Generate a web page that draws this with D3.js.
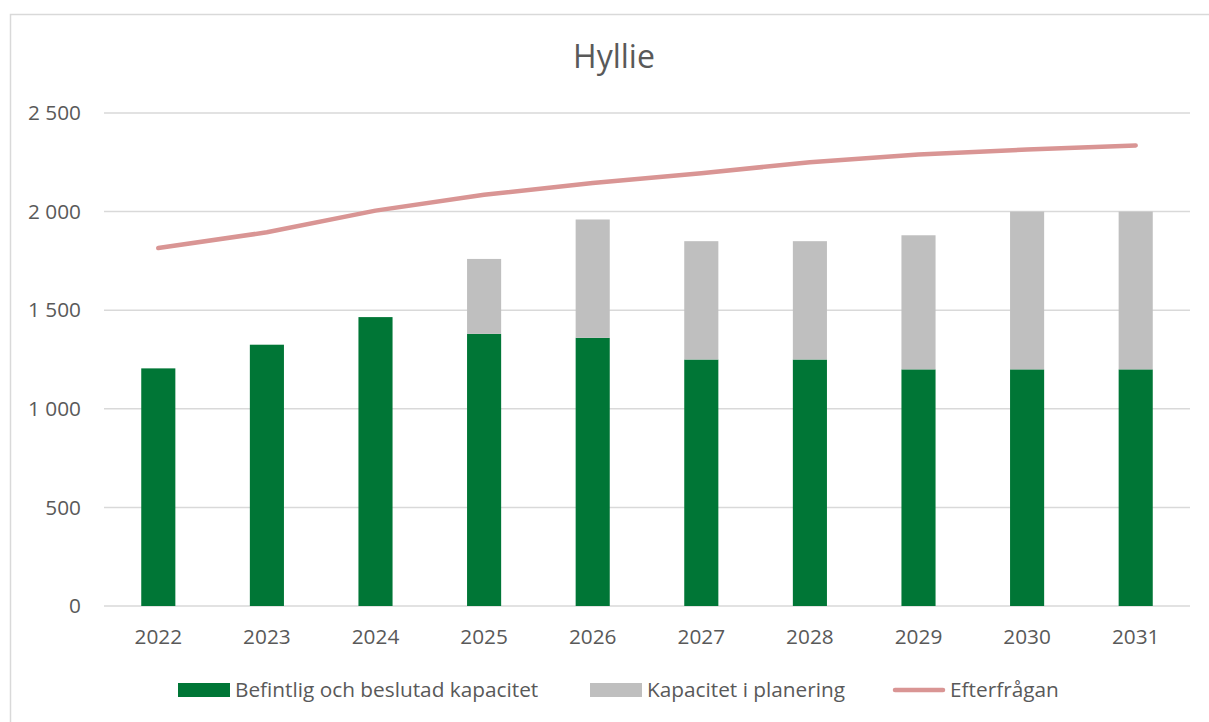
<!DOCTYPE html>
<html><head><meta charset="utf-8">
<script src="https://cdn.jsdelivr.net/npm/d3@7"></script>
<style>body{margin:0;background:#fff}svg{display:block}text{font-family:"Open Sans",sans-serif;fill:#595959}</style>
</head><body><svg id="c" width="1209" height="722"></svg>
<script>
const years = ["2022","2023","2024","2025","2026","2027","2028","2029","2030","2031"];
const befintlig = [1205,1325,1465,1380,1360,1250,1250,1200,1200,1200];
const planering = [0,0,0,380,600,600,600,680,800,800];
const efterfragan = [1815,1895,2005,2085,2145,2195,2250,2290,2315,2335];
const yTicks = [0,500,1000,1500,2000,2500];
const seriesNames = ["Befintlig och beslutad kapacitet","Kapacitet i planering","Efterfrågan"];
const colors = ["#007636","#BFBFBF","#D99594"];

const svg = d3.select("#c");
svg.append("rect").attr("x",10.5).attr("y",14.5).attr("width",1220).attr("height",720)
  .attr("fill","#fff").attr("stroke","#D9D9D9").attr("stroke-width",1.5);

const x = d3.scaleBand().domain(years).range([104,1190]).paddingInner(0.686).paddingOuter(0.343);
const y = d3.scaleLinear().domain([0,2500]).range([606,113]);

const fmt = v => d3.format(",")(v).replace(/,/g," ");
const fs = 20.8;

// gridlines
svg.append("g").selectAll("line").data(yTicks).join("line")
  .attr("x1",104).attr("x2",1190).attr("y1",d=>y(d)).attr("y2",d=>y(d))
  .attr("stroke","#D9D9D9").attr("stroke-width",1.5);

// y labels
svg.append("g").selectAll("text").data(yTicks).join("text")
  .attr("x",81).attr("y",d=>y(d)).attr("dy","0.35em").attr("text-anchor","end")
  .attr("font-size",fs).text(fmt);

// x labels
svg.append("g").selectAll("text").data(years).join("text")
  .attr("x",d=>x(d)+x.bandwidth()/2).attr("y",637).attr("dy","0.35em")
  .attr("text-anchor","middle").attr("font-size",fs).text(d=>d);

// bars
const stack = years.map((yr,i)=>({yr, b:befintlig[i], p:planering[i]}));
svg.append("g").selectAll("rect").data(stack).join("rect")
  .attr("x",d=>x(d.yr)).attr("width",x.bandwidth())
  .attr("y",d=>y(d.b)).attr("height",d=>y(0)-y(d.b)).attr("fill",colors[0]);
svg.append("g").selectAll("rect").data(stack.filter(d=>d.p>0)).join("rect")
  .attr("x",d=>x(d.yr)).attr("width",x.bandwidth())
  .attr("y",d=>y(d.b+d.p)).attr("height",d=>y(d.b)-y(d.b+d.p)).attr("fill",colors[1]);

// line
const line = d3.line().x((d,i)=>x(years[i])+x.bandwidth()/2).y(d=>y(d));
svg.append("path").datum(efterfragan).attr("d",line).attr("fill","none")
  .attr("stroke",colors[2]).attr("stroke-width",4.5).attr("stroke-linecap","round").attr("stroke-linejoin","round");

// title
svg.append("text").attr("x",614).attr("y",57).attr("dy","0.35em").attr("text-anchor","middle")
  .attr("font-size",32).text("Hyllie");

// legend
const lg = svg.append("g");
const legX = [178,590,893];
seriesNames.forEach((n,i)=>{
  if(i<2){
    lg.append("rect").attr("x",legX[i]).attr("y",683).attr("width",52).attr("height",14).attr("fill",colors[i]);
  } else {
    lg.append("line").attr("x1",legX[i]+2).attr("x2",legX[i]+50).attr("y1",690).attr("y2",690)
      .attr("stroke",colors[i]).attr("stroke-width",4.5).attr("stroke-linecap","round");
  }
  lg.append("text").attr("x",legX[i]+57).attr("y",690).attr("dy","0.35em").attr("font-size",fs).text(n);
});
</script></body></html>
